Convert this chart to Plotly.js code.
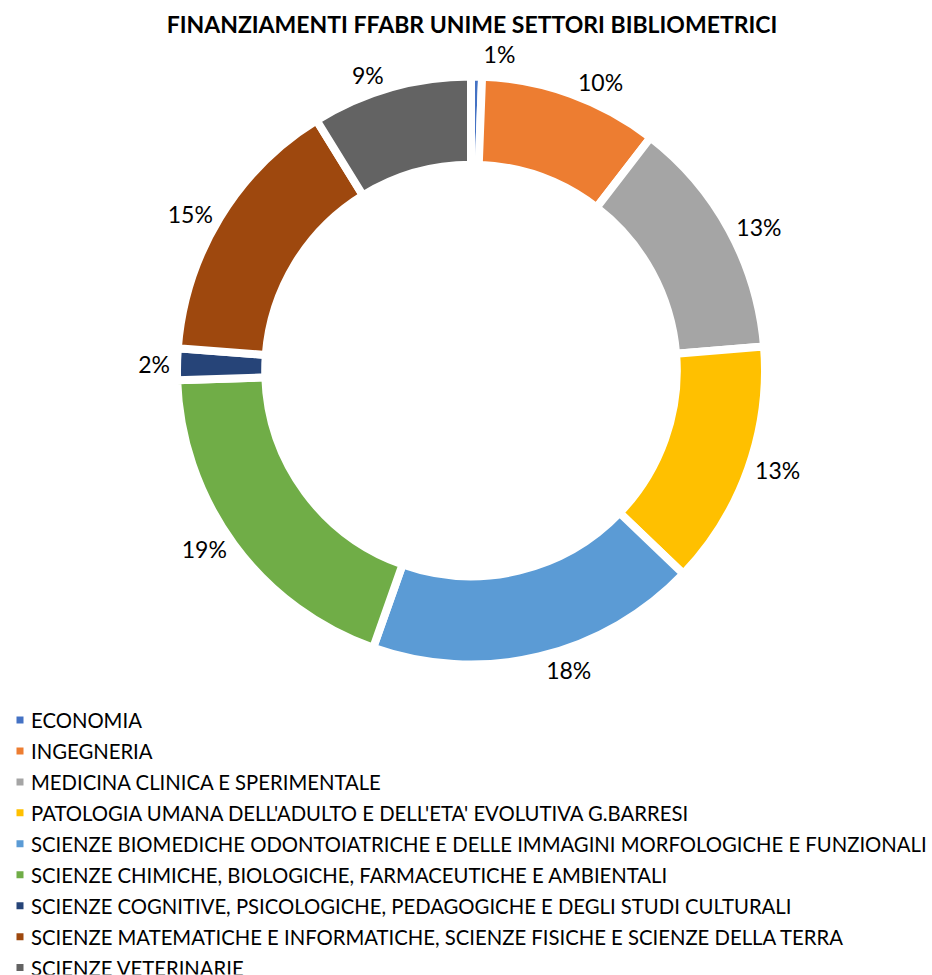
<!DOCTYPE html>
<html>
<head>
<meta charset="utf-8">
<script src="https://cdn.plot.ly/plotly-3.0.1.min.js"></script>
<style>
html,body{margin:0;padding:0;background:#fff;}
#chart{width:932px;height:975px;}
path.textline{display:none !important;}
.legend .scrollbar{display:none !important;}
.legend .legendtext{transform:translateX(-9px);}
</style>
</head>
<body>
<div id="chart"></div>
<script>
const categories = [
  "ECONOMIA",
  "INGEGNERIA",
  "MEDICINA CLINICA E SPERIMENTALE",
  "PATOLOGIA UMANA DELL'ADULTO E DELL'ETA' EVOLUTIVA G.BARRESI",
  "SCIENZE BIOMEDICHE ODONTOIATRICHE E DELLE IMMAGINI MORFOLOGICHE E FUNZIONALI",
  "SCIENZE CHIMICHE, BIOLOGICHE, FARMACEUTICHE E AMBIENTALI",
  "SCIENZE COGNITIVE, PSICOLOGICHE, PEDAGOGICHE E DEGLI STUDI CULTURALI",
  "SCIENZE MATEMATICHE E INFORMATICHE, SCIENZE FISICHE E SCIENZE DELLA TERRA",
  "SCIENZE VETERINARIE"
];
const shares = [0.6, 9.85, 13.25, 13.45, 18.25, 19.07, 1.73, 15.0, 8.8];
const colors = ["#4472C4", "#ED7D31", "#A5A5A5", "#FFC000", "#5B9BD5", "#70AD47", "#264478", "#9E480E", "#636363"];

const W = 932, H = 975;
const cx = 471, cy = 370.5, R = 294;
const legendLabels = categories.map(c => '<span style="font-size:20.3px">' + c + '</span>');

const trace = {
  type: 'pie',
  labels: legendLabels,
  values: shares,
  sort: false,
  direction: 'clockwise',
  rotation: 0,
  hole: 0.70,
  marker: { colors: colors, line: { color: '#ffffff', width: 8 } },
  texttemplate: '%{percent:.0%}',
  textposition: 'outside',
  outsidetextfont: { family: 'Lato, sans-serif', size: 23, color: '#000000' },
  hoverinfo: 'label+percent',
  domain: { x: [(cx - R) / W, (cx + R) / W], y: [1 - (cy + R) / H, 1 - (cy - R) / H] }
};

const layout = {
  width: W, height: H,
  margin: { l: 0, r: 0, t: 0, b: 0 },
  paper_bgcolor: '#ffffff',
  font: { family: 'Lato, sans-serif', color: '#000000' },
  title: {
    text: '<b>FINANZIAMENTI FFABR UNIME SETTORI BIBLIOMETRICI</b>',
    font: { family: 'Lato, sans-serif', size: 23, color: '#000000' },
    x: 472 / W, xanchor: 'center', xref: 'paper',
    y: 1 - 25 / H, yanchor: 'middle', yref: 'container'
  },
  showlegend: true,
  legend: {
    orientation: 'v',
    x: 0, xanchor: 'left',
    y: 1 - 699.5 / H, yanchor: 'top',
    maxheight: 275,
    font: { family: 'Lato, sans-serif', size: 21.5, color: '#000000' },
    bgcolor: 'rgba(0,0,0,0)',
    borderwidth: 0,
    traceorder: 'normal'
  }
};

Plotly.newPlot('chart', [trace], layout, { displayModeBar: false, staticPlot: true });
</script>
</body>
</html>
